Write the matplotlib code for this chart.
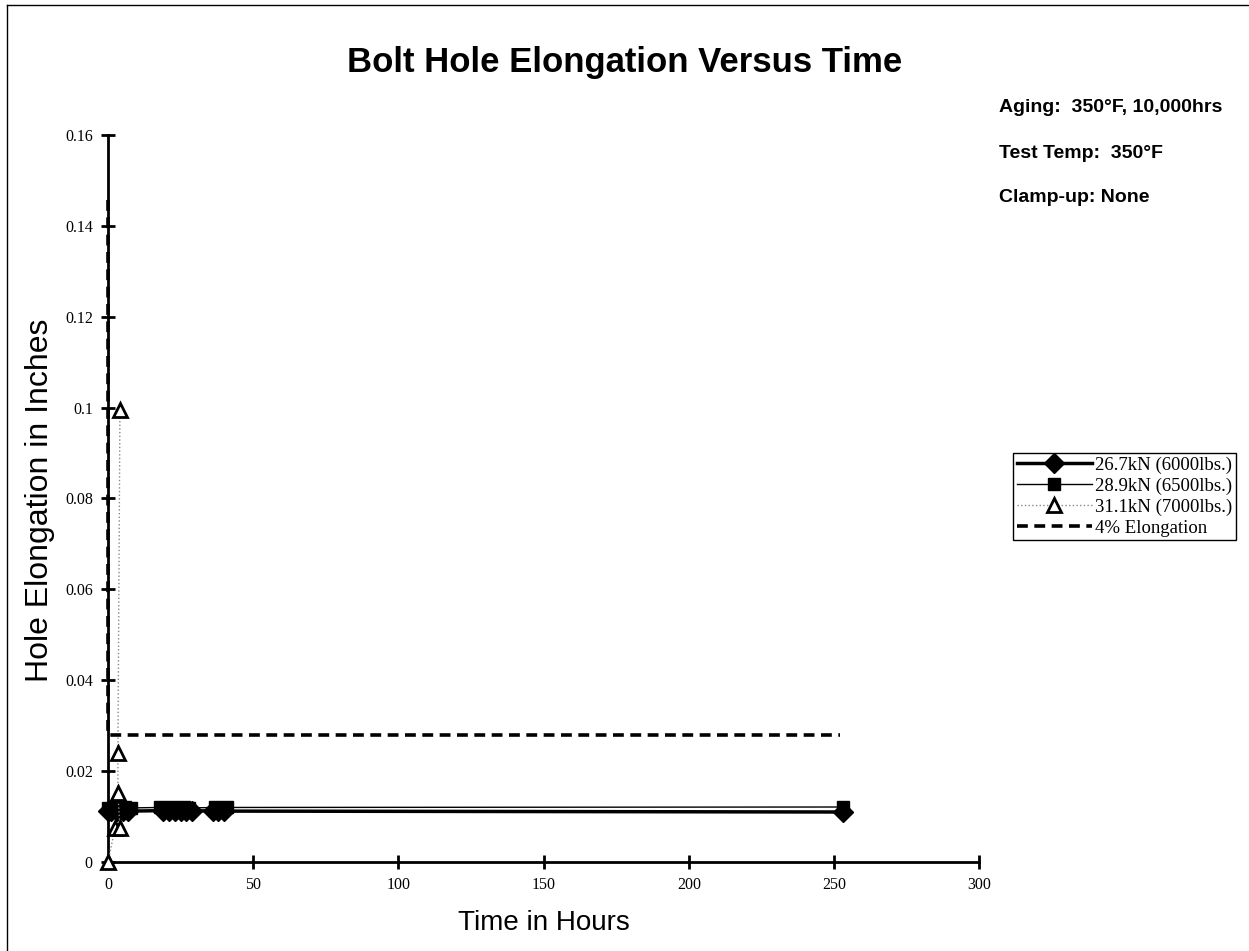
import numpy as np
import matplotlib
matplotlib.use('Agg')
import matplotlib.pyplot as plt
from matplotlib.lines import Line2D
from matplotlib.ticker import FuncFormatter

# ---------------------------------------------------------
# Data (time in hours, elongation in inches)
# ---------------------------------------------------------
t_267 = [0, 1, 3, 5, 7, 19, 21, 23, 25, 27, 29, 36, 38, 40, 253]
h_267 = [0.0112, 0.0113, 0.0112, 0.0113, 0.0112, 0.0113, 0.0112, 0.0113,
         0.0112, 0.0113, 0.0112, 0.0113, 0.0112, 0.0112, 0.0110]

t_289 = [0, 2, 4, 6, 8, 18, 20, 22, 24, 26, 28, 37, 39, 41, 253]
h_289 = [0.0119, 0.0120, 0.0119, 0.0120, 0.0119, 0.0120, 0.0119, 0.0120,
         0.0119, 0.0120, 0.0119, 0.0120, 0.0119, 0.0120, 0.0121]

t_311 = [0, 2.4, 4.1, 3.4, 3.4, 4.1]
h_311 = [0.0, 0.0075, 0.0075, 0.0152, 0.0240, 0.0995]

t_limit = [0, 0, 252]
h_limit = [0.1457, 0.0279, 0.0279]

labels = ['26.7kN (6000lbs.)', '28.9kN (6500lbs.)', '31.1kN (7000lbs.)', '4% Elongation']
notes = ['Aging:  350°F, 10,000hrs', 'Test Temp:  350°F', 'Clamp-up: None']

x_ticks = [0, 50, 100, 150, 200, 250, 300]
y_ticks = [0, 0.02, 0.04, 0.06, 0.08, 0.1, 0.12, 0.14, 0.16]

SANS = 'Liberation Sans'
SERIF = 'Liberation Serif'


def main():
    fig = plt.figure(figsize=(12.49, 9.51), dpi=100)
    ax = fig.add_axes([0.0865, 0.0936, 0.6975, 0.7645])

    ax.plot(t_limit, h_limit, color='black', linestyle=(0, (3.0, 1.8)), lw=2.6,
            label=labels[3], zorder=5)
    ax.plot(t_311, h_311, color='#888888', linestyle=':', lw=1.0, marker='^',
            markersize=10, markerfacecolor='white', markeredgecolor='black',
            markeredgewidth=2.0, label=labels[2], zorder=4)
    ax.plot(t_289, h_289, color='black', lw=1.0, marker='s', markersize=9,
            label=labels[1], zorder=3)
    ax.plot(t_267, h_267, color='black', lw=2.5, marker='D', markersize=10,
            label=labels[0], zorder=3)

    ax.set_xlim(0, 300)
    ax.set_ylim(0, 0.16)
    ax.set_xticks(x_ticks)
    ax.set_yticks(y_ticks)
    ax.yaxis.set_major_formatter(FuncFormatter(lambda v, p: '%g' % v))

    for side in ['top', 'right']:
        ax.spines[side].set_visible(False)
    for side in ['left', 'bottom']:
        ax.spines[side].set_linewidth(2.0)
    ax.tick_params(direction='inout', length=10, width=2.0, pad=6,
                   labelsize=11.5)
    for lbl in ax.get_xticklabels() + ax.get_yticklabels():
        lbl.set_fontfamily(SERIF)
    ax.patch.set_alpha(0)
    for ln in ax.lines:
        ln.set_clip_on(False)

    ax.set_xlabel('Time in Hours', fontfamily=SANS, fontsize=20, labelpad=12)
    fig.text(0.032, 0.474, 'Hole Elongation in Inches', fontfamily=SANS,
             fontsize=23, rotation=90, ha='center', va='center')
    fig.suptitle('Bolt Hole Elongation Versus Time', fontfamily=SANS,
                 fontweight='bold', fontsize=25, x=0.5, y=0.934, va='center')

    for i, note in enumerate(notes):
        fig.text(0.8, 1 - (108 + 45 * i) / 951, note, fontfamily=SANS,
                 fontweight='bold', fontsize=14, ha='left', va='center')

    # legend order: 26.7, 28.9, 31.1, 4%
    handles, lbls = ax.get_legend_handles_labels()
    order = [3, 2, 1, 0]
    leg = ax.legend([handles[i] for i in order], [lbls[i] for i in order],
                    loc='upper left', bbox_to_anchor=(0.811, 0.524),
                    bbox_transform=fig.transFigure, borderaxespad=0,
                    prop={'family': SERIF, 'size': 13.5}, handlelength=4.0,
                    handletextpad=0.15, labelspacing=0.2, borderpad=0.2,
                    fancybox=False, framealpha=1, edgecolor='black')
    leg.get_frame().set_linewidth(1.0)

    # scanned page frame on the left and top
    fig.add_artist(Line2D([0.006, 0.006], [0, 0.995], color='black', lw=1.0))
    fig.add_artist(Line2D([0.006, 1], [0.995, 0.995], color='black', lw=1.0))

    fig.savefig('out.png', dpi=100)
    plt.close(fig)


if __name__ == '__main__':
    main()
